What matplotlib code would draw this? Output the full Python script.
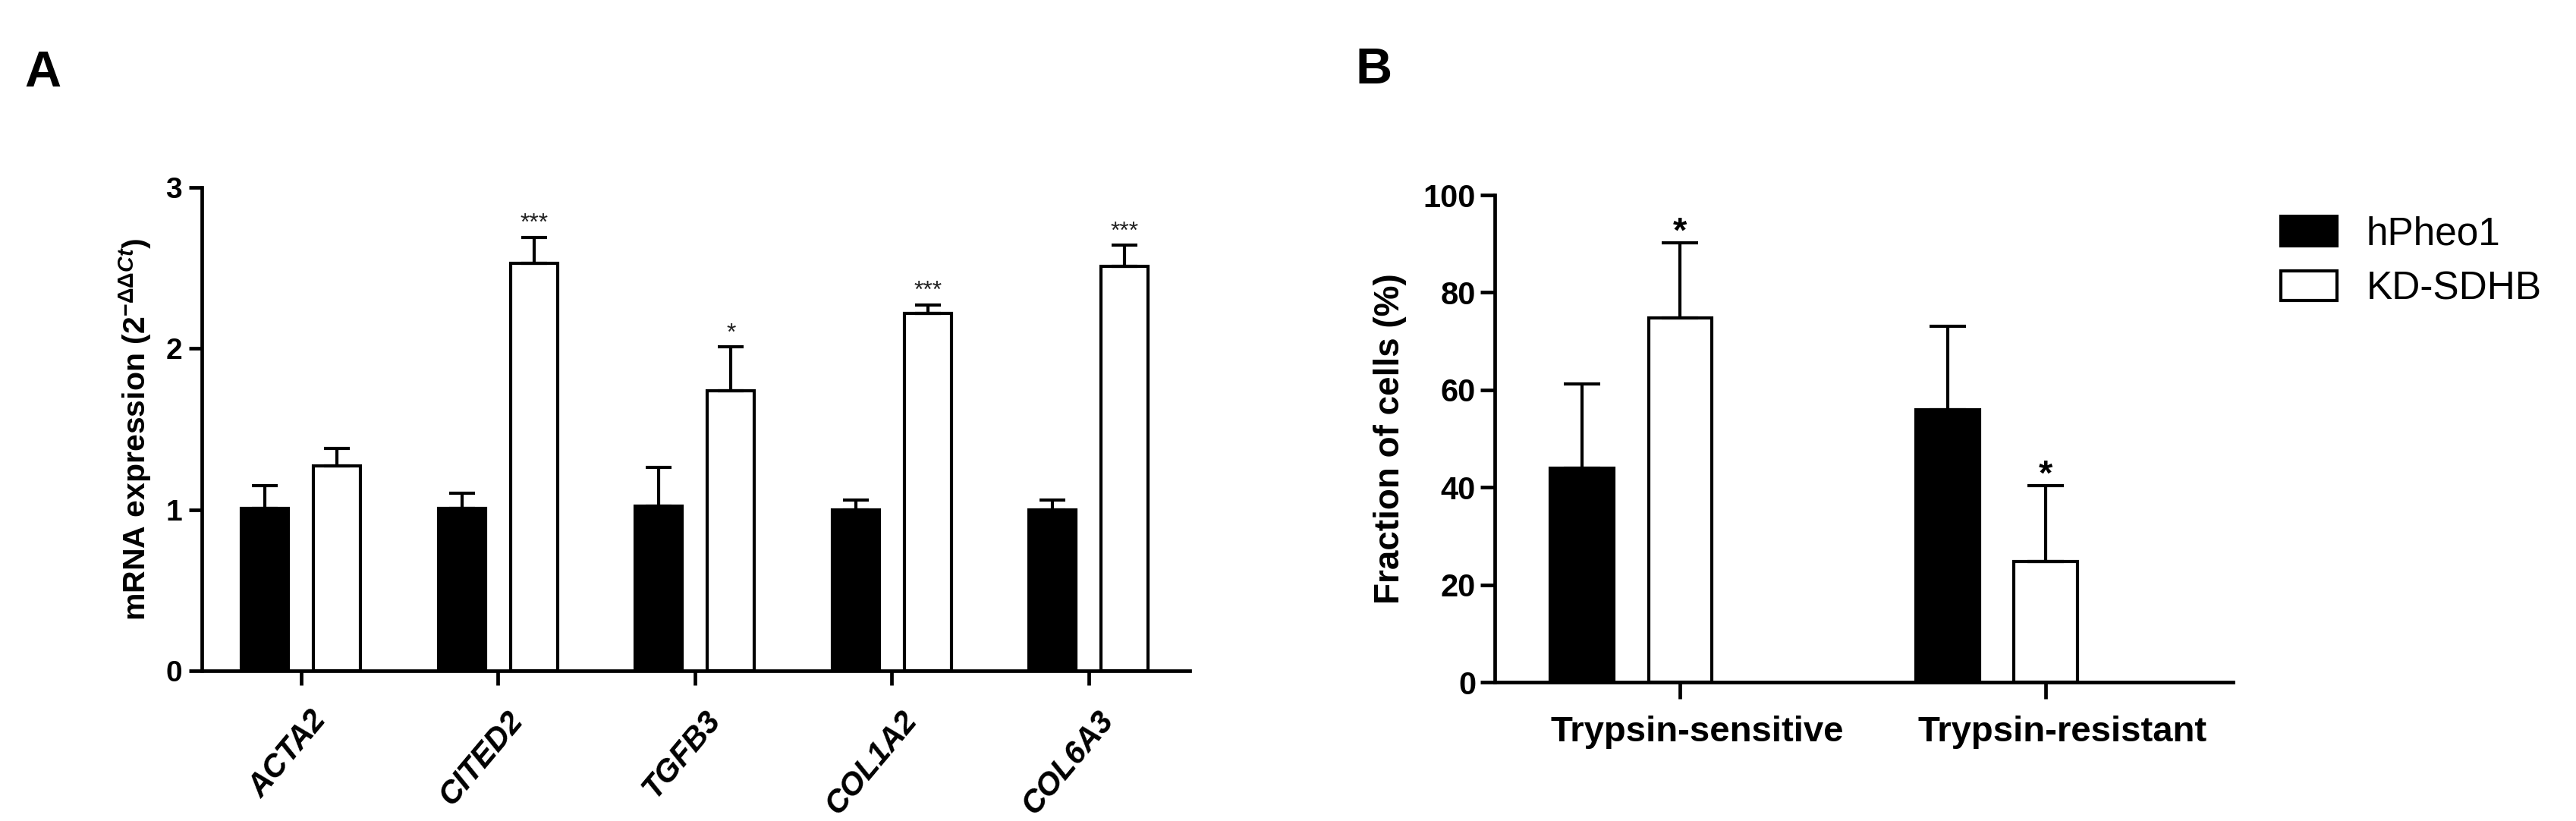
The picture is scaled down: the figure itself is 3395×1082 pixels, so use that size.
import matplotlib
matplotlib.use("Agg")
import matplotlib.pyplot as plt
import numpy as np
from matplotlib.patches import Patch
from matplotlib.transforms import ScaledTranslation

plt.rcParams['font.family'] = ['Liberation Sans', 'DejaVu Sans']
plt.rcParams['mathtext.fontset'] = 'custom'
plt.rcParams['mathtext.rm'] = 'Liberation Sans:bold'
plt.rcParams['mathtext.bf'] = 'Liberation Sans:bold'
plt.rcParams['mathtext.it'] = 'Liberation Sans:bold:italic'

# ---------------- data ----------------
genes = ['ACTA2', 'CITED2', 'TGFB3', 'COL1A2', 'COL6A3']
hpheo1_mrna = [1.01, 1.01, 1.02, 1.00, 1.00]
hpheo1_mrna_err = [0.14, 0.09, 0.24, 0.06, 0.06]
kd_mrna = [1.27, 2.53, 1.74, 2.22, 2.51]
kd_mrna_err = [0.11, 0.16, 0.27, 0.05, 0.13]
kd_mrna_sig = ['', '***', '*', '***', '***']
mrna_yticks = [0, 1, 2, 3]

fractions = ['Trypsin-sensitive', 'Trypsin-resistant']
hpheo1_frac = [44.0, 56.0]
hpheo1_frac_err = [17.2, 17.0]
kd_frac = [74.8, 24.8]
kd_frac_err = [15.4, 15.5]
kd_frac_sig = ['*', '*']
frac_yticks = [0, 20, 40, 60, 80, 100]

series_names = ['hPheo1', 'KD-SDHB']

# ---------------- figure ----------------
fig = plt.figure(figsize=(33.95, 10.82), dpi=100)
axA = fig.add_axes([0.0784, 0.1830, 0.3835, 0.5887])
axB = fig.add_axes([0.5803, 0.1691, 0.2866, 0.5933])

edge_lw = 3.0
spine_lw = 3.4


def style_axes(ax, ytick_len, xtick_len, ytick_pad, ysize):
    for s in ['top', 'right']:
        ax.spines[s].set_visible(False)
    for s in ['left', 'bottom']:
        ax.spines[s].set_linewidth(spine_lw)
    ax.tick_params(axis='y', direction='out', length=ytick_len, width=spine_lw,
                   pad=ytick_pad, labelsize=ysize)
    ax.tick_params(axis='x', direction='out', length=xtick_len, width=spine_lw)
    for lab in ax.get_yticklabels():
        lab.set_fontweight('bold')


# ---------------- Panel A ----------------
xA = np.arange(len(genes))
offA = 0.183
wA = 0.239
axA.bar(xA - offA, hpheo1_mrna, wA, color='black', edgecolor='black',
        linewidth=edge_lw, zorder=2)
axA.bar(xA + offA, kd_mrna, wA, color='white', edgecolor='black',
        linewidth=edge_lw, zorder=2)
axA.errorbar(xA - offA, hpheo1_mrna, yerr=[np.zeros(len(genes)), hpheo1_mrna_err],
             fmt='none', ecolor='black', elinewidth=3.0, capsize=12, capthick=3.0, zorder=3)
axA.errorbar(xA + offA, kd_mrna, yerr=[np.zeros(len(genes)), kd_mrna_err],
             fmt='none', ecolor='black', elinewidth=3.0, capsize=12, capthick=3.0, zorder=3)
for xi, v, e, s in zip(xA + offA, kd_mrna, kd_mrna_err, kd_mrna_sig):
    if s:
        axA.annotate(s, xy=(xi, v + e), xytext=(0, 7), textcoords='offset points',
                     ha='center', va='baseline', fontsize=23, color='#222222')

axA.set_xlim(-0.503, 4.514)
axA.set_ylim(0, 3)
axA.set_yticks(mrna_yticks)
axA.set_xticks(xA)
axA.set_xticklabels(genes, rotation=50, ha='right', va='top', rotation_mode='anchor',
                    fontsize=30, fontweight='bold', fontstyle='italic')
style_axes(axA, 12, 14, 7, 28)
axA.tick_params(axis='x', pad=19)
for lab in axA.get_xticklabels():
    lab.set_transform(lab.get_transform() + ScaledTranslation(0.11, 0, fig.dpi_scale_trans))
axA.set_ylabel(r'mRNA expression (2$^{-\Delta\Delta Ct}$)', fontsize=29.5, fontweight='bold')
axA.yaxis.set_label_coords(-0.0676, 0.5)
axA.yaxis.label.set_verticalalignment('center')

# ---------------- Panel B ----------------
xB = np.arange(len(fractions))
offB = 0.268
wB = 0.174
axB.bar(xB - offB, hpheo1_frac, wB, color='black', edgecolor='black',
        linewidth=edge_lw, zorder=2, label=series_names[0])
axB.bar(xB, kd_frac, wB, color='white', edgecolor='black',
        linewidth=edge_lw, zorder=2, label=series_names[1])
axB.errorbar(xB - offB, hpheo1_frac, yerr=[np.zeros(len(fractions)), hpheo1_frac_err],
             fmt='none', ecolor='black', elinewidth=3.0, capsize=17, capthick=3.0, zorder=3)
axB.errorbar(xB, kd_frac, yerr=[np.zeros(len(fractions)), kd_frac_err],
             fmt='none', ecolor='black', elinewidth=3.0, capsize=17, capthick=3.0, zorder=3)
for xi, v, e, s in zip(xB, kd_frac, kd_frac_err, kd_frac_sig):
    if s:
        axB.annotate(s, xy=(xi, v + e), xytext=(0, 1), textcoords='offset points',
                     ha='center', va='baseline', fontsize=34, fontweight='bold')

axB.set_xlim(-0.507, 1.512)
axB.set_ylim(0, 100)
axB.set_yticks(frac_yticks)
axB.set_xticks(xB)
axB.set_xticklabels(fractions, fontsize=34, fontweight='bold')
style_axes(axB, 14, 16, 4, 30)
axB.tick_params(axis='x', pad=16)
for lab in axB.get_xticklabels():
    lab.set_transform(lab.get_transform() + ScaledTranslation(0.22, 0, fig.dpi_scale_trans))
axB.set_ylabel('Fraction of cells (%)', fontsize=33, fontweight='bold')
axB.yaxis.set_label_coords(-0.1418, 0.5)
axB.yaxis.label.set_verticalalignment('center')

# legend
handles = [Patch(facecolor='black', edgecolor='black', linewidth=edge_lw),
           Patch(facecolor='white', edgecolor='black', linewidth=edge_lw)]
fig.legend(handles, series_names, loc='upper left', bbox_to_anchor=(0.8854, 0.737),
           frameon=False, fontsize=37, handlelength=1.45, handleheight=0.8,
           handletextpad=0.75, labelspacing=0.45, borderpad=0, borderaxespad=0)

# panel letters
fig.text(0.0094, 0.8946, 'A', fontsize=48, fontweight='bold', va='baseline', ha='left')
fig.text(0.5261, 0.8983, 'B', fontsize=48, fontweight='bold', va='baseline', ha='left')

fig.savefig('out.png', dpi=100, facecolor='white')
